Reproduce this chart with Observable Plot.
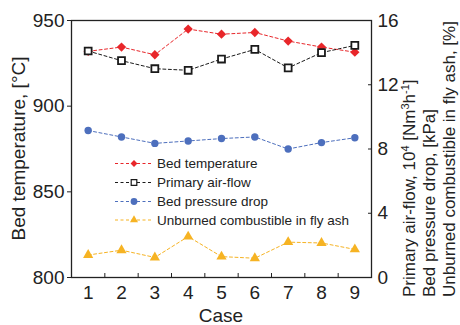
<!DOCTYPE html>
<html>
<head>
<meta charset="utf-8">
<script src="https://cdn.jsdelivr.net/npm/d3@7"></script>
<script src="https://cdn.jsdelivr.net/npm/@observablehq/plot@0.6"></script>
<style>
  html, body { margin: 0; padding: 0; background: white; }
  #chart { width: 460px; height: 325px; }
</style>
</head>
<body>
<div id="chart"></div>
<script>
const cases = [1, 2, 3, 4, 5, 6, 7, 8, 9];
const bedTemp = [932, 934.5, 930, 945, 942, 943, 938, 934.5, 931.5];       // °C (left)
const airFlow = [14.1, 13.5, 13.0, 12.9, 13.6, 14.2, 13.05, 14.0, 14.45];  // 10^4 Nm3/h (right)
const pressure = [9.15, 8.75, 8.35, 8.5, 8.65, 8.75, 8.0, 8.4, 8.7];      // kPa (right)
const unburned = [1.4, 1.7, 1.25, 2.55, 1.3, 1.2, 2.2, 2.15, 1.75];       // % (right)
const leftTicks = [800, 850, 900, 950];
const rightTicks = [0, 4, 8, 12, 16];
const halfTicks = [1.5, 2.5, 3.5, 4.5, 5.5, 6.5, 7.5, 8.5];
const seriesNames = ["Bed temperature", "Primary air-flow", "Bed pressure drop", "Unburned combustible in fly ash"];

const leftDomain = [800, 950];
const rightDomain = [0, 16];
const toLeft = v => leftDomain[0] + (v - rightDomain[0]) * (leftDomain[1] - leftDomain[0]) / (rightDomain[1] - rightDomain[0]);
const fromLeft = v => rightDomain[0] + (v - leftDomain[0]) * (rightDomain[1] - rightDomain[0]) / (leftDomain[1] - leftDomain[0]);

const red = "#e8262a", blk = "#1a1a1a", blue = "#4d6fbd", yel = "#f6b323";

const rows = (vals, conv) => cases.map((c, i) => ({case: c, v: conv(vals[i])}));
const tData = rows(bedTemp, v => v);
const aData = rows(airFlow, toLeft);
const pData = rows(pressure, toLeft);
const uData = rows(unburned, toLeft);

const font = "'Liberation Sans', Arial, sans-serif";

const chart = Plot.plot({
  width: 460,
  height: 325,
  marginLeft: 71,
  marginRight: 89,
  marginTop: 20,
  marginBottom: 48,
  x: {domain: [0.5, 9.5]},
  y: {domain: leftDomain},
  style: {fontFamily: font, fontSize: "19px", background: "white", color: "#222"},
  marks: [
    Plot.axisX({ticks: cases, tickSize: 0, tickPadding: 8, tickFormat: d => String(d), label: null}),
    Plot.axisX({ticks: halfTicks, tickSize: 4, dy: -4, tickFormat: null, text: null, label: null}),
    Plot.axisY({ticks: leftTicks, tickSize: 4, tickPadding: 3, label: null, tickFormat: d => String(d)}),
    Plot.axisY({anchor: "right", ticks: rightTicks.map(toLeft), tickSize: 0, tickPadding: 6,
      tickFormat: d => String(Math.round(fromLeft(d))), label: null}),
    Plot.axisY({anchor: "right", ticks: rightTicks.map(toLeft), tickSize: 4, dx: -4, text: null, label: null}),
    Plot.frame({stroke: "#222", strokeWidth: 1.3}),
    Plot.line(tData, {x: "case", y: "v", stroke: red, strokeWidth: 1, strokeDasharray: "3,2.5"}),
    Plot.dot(tData, {x: "case", y: "v", symbol: "diamond2", fill: red, stroke: "none", r: 4.2}),
    Plot.line(aData, {x: "case", y: "v", stroke: blk, strokeWidth: 1, strokeDasharray: "3,2.5"}),
    Plot.dot(aData, {x: "case", y: "v", symbol: "square2", fill: "white", stroke: blk, strokeWidth: 1.8, r: 4.4}),
    Plot.line(pData, {x: "case", y: "v", stroke: blue, strokeWidth: 1, strokeDasharray: "3,2.5"}),
    Plot.dot(pData, {x: "case", y: "v", symbol: "circle", fill: blue, stroke: "none", r: 3.7}),
    Plot.line(uData, {x: "case", y: "v", stroke: yel, strokeWidth: 1, strokeDasharray: "3,2.5"}),
    Plot.dot(uData, {x: "case", y: "v", symbol: "triangle", fill: yel, stroke: "none", r: 3.8})
  ]
});
document.getElementById("chart").appendChild(chart);

const svg = d3.select(chart);
// Axis titles
svg.append("text")
  .attr("transform", "translate(25,148.5) rotate(-90)")
  .attr("text-anchor", "middle")
  .style("font-family", font).style("font-size", "19px").attr("fill", "#222")
  .text("Bed temperature, [°C]");
svg.append("text")
  .attr("x", 221).attr("y", 322)
  .attr("text-anchor", "middle")
  .style("font-family", font).style("font-size", "19px").attr("fill", "#222")
  .text("Case");

function rightTitle(xb, parts) {
  const t = svg.append("text")
    .attr("transform", `translate(${xb},297) rotate(-90)`)
    .attr("text-anchor", "start")
    .style("font-family", font).style("font-size", "17px").attr("fill", "#222");
  let shifted = false;
  parts.forEach(([s, sup]) => {
    const ts = t.append("tspan").text(s);
    if (sup) {
      ts.attr("dy", -6).style("font-size", "11px");
      shifted = true;
    } else if (shifted) {
      ts.attr("dy", 6);
      shifted = false;
    }
  });
}
rightTitle(415, [["Primary air-flow, 10"], ["4", true], [" [Nm"], ["3", true], ["h"], ["-1", true], ["]"]]);
rightTitle(435, [["Bed pressure drop, [kPa]"]]);
rightTitle(455, [["Unburned combustible in fly ash, [%]"]]);

// Legend
const legend = [
  {name: seriesNames[0], color: red, sym: d3.symbolDiamond2, size: 30, fill: red, stroke: "none", sw: 0},
  {name: seriesNames[1], color: blk, sym: d3.symbolSquare2, size: 40, fill: "white", stroke: blk, sw: 1.2},
  {name: seriesNames[2], color: blue, sym: d3.symbolCircle, size: 36, fill: blue, stroke: "none", sw: 0},
  {name: seriesNames[3], color: yel, sym: d3.symbolTriangle, size: 28, fill: yel, stroke: "none", sw: 0}
];
const rowsY = [163.5, 182.5, 201.5, 220];
const lg = svg.append("g");
legend.forEach((d, i) => {
  const y = rowsY[i];
  lg.append("line").attr("x1", 115).attr("x2", 153).attr("y1", y).attr("y2", y)
    .attr("stroke", d.color).attr("stroke-width", 1).attr("stroke-dasharray", "3,2.5");
  lg.append("path").attr("d", d3.symbol(d.sym, d.size)())
    .attr("transform", `translate(134,${y})`)
    .attr("fill", d.fill).attr("stroke", d.stroke).attr("stroke-width", d.sw);
  lg.append("text").attr("x", 157).attr("y", y).attr("dy", "0.36em")
    .attr("text-anchor", "start")
    .style("font-family", font).style("font-size", "13.5px").attr("fill", "#222")
    .text(d.name);
});
</script>
</body>
</html>
